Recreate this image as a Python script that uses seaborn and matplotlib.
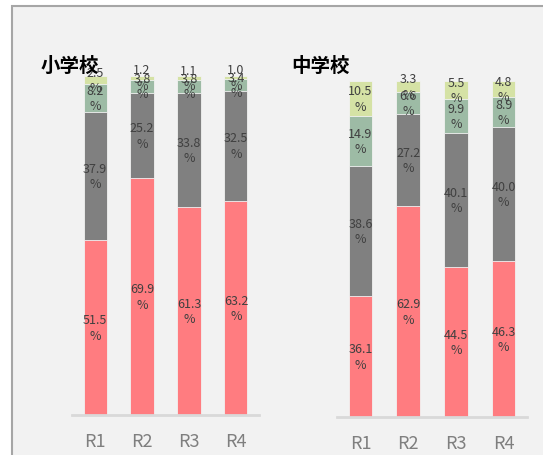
import matplotlib
matplotlib.use("Agg")
import matplotlib.pyplot as plt
from matplotlib.patches import Rectangle
import seaborn as sns
import pandas as pd
import numpy as np

sns.set_theme(style="white")
plt.rcParams["font.family"] = ["Noto Sans CJK JP", "DejaVu Sans"]

rounds = ["R1", "R2", "R3", "R4"]

# 小学校: segments from bottom to top
elem_s1 = [51.5, 69.9, 61.3, 63.2]
elem_s2 = [37.9, 25.2, 33.8, 32.5]
elem_s3 = [8.2, 3.8, 3.8, 3.4]
elem_s4 = [2.5, 1.2, 1.1, 1.0]

# 中学校: segments from bottom to top
mid_s1 = [36.1, 62.9, 44.5, 46.3]
mid_s2 = [38.6, 27.2, 40.1, 40.0]
mid_s3 = [14.9, 6.6, 9.9, 8.9]
mid_s4 = [10.5, 3.3, 5.5, 4.8]

colors = ["#FF7C80", "#808080", "#9DBBA5", "#D5E2A5"]

W, H = 543, 456
fig = plt.figure(figsize=(W / 100, H / 100), dpi=100)
fig.patch.set_facecolor("white")

# panel frame behind both charts
fig.add_artist(Rectangle((12 / W, -0.05), 1.1, (H - 7) / H + 0.05,
                         transform=fig.transFigure, facecolor="#F2F2F2",
                         edgecolor="#A6A6A6", linewidth=1.5, zorder=-10))


def px_axes(left, right, top, bottom):
    return fig.add_axes([left / W, 1 - bottom / H, (right - left) / W, (bottom - top) / H])


def stacked(ax, segs, title, title_x, title_y):
    ax.set_facecolor("none")
    cum = np.cumsum(np.array(segs), axis=0)
    # draw from the tallest cumulative total down so lower segments sit on top
    for i in range(len(segs) - 1, -1, -1):
        df = pd.DataFrame({"round": rounds, "value": cum[i]})
        sns.barplot(data=df, x="round", y="value", color=colors[i], width=0.49,
                    saturation=1, ax=ax, edgecolor="#F2F2F2", linewidth=0.6, zorder=2)
    bottoms = np.vstack([np.zeros(len(rounds)), cum[:-1]])
    for i, seg in enumerate(segs):
        for j, v in enumerate(seg):
            ax.text(j, bottoms[i][j] + v / 2, f"{v:.1f}\n%", ha="center", va="center",
                    fontsize=9, color="#404040", linespacing=1.25, zorder=3)
    ax.set_ylim(0, 100)
    ax.set_xlim(-0.49, 3.49)
    ax.set_xlabel("")
    ax.set_ylabel("")
    ax.set_yticks([])
    for s in ["top", "right", "left"]:
        ax.spines[s].set_visible(False)
    ax.spines["bottom"].set_color("#D9D9D9")
    ax.spines["bottom"].set_linewidth(2)
    ax.tick_params(axis="x", length=0, pad=12, labelsize=13, labelcolor="#7F7F7F")
    fig.text(title_x / W, 1 - title_y / H, title, fontsize=14, fontweight="bold",
             color="#000000", ha="left", va="center", zorder=1)


ax1 = px_axes(72, 259, 77, 416)
stacked(ax1, [elem_s1, elem_s2, elem_s3, elem_s4], "小学校", 41, 66)

ax2 = px_axes(337, 527, 82, 418)
stacked(ax2, [mid_s1, mid_s2, mid_s3, mid_s4], "中学校", 291, 66)

fig.savefig("out.png", dpi=100)
